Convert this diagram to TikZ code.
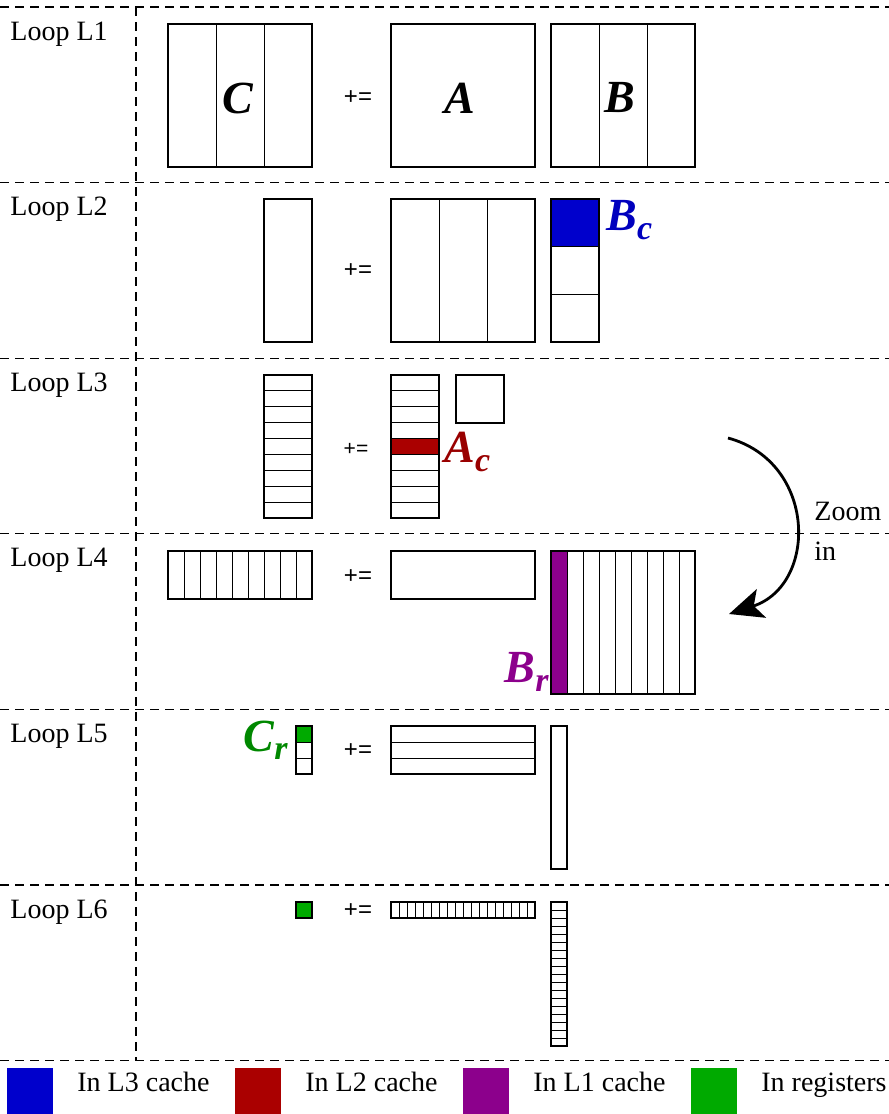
\documentclass[tikz,border=0pt]{standalone}
\usepackage{fontspec}
\setmainfont{Liberation Serif}
\newfontfamily\opfont{Liberation Sans}
\usetikzlibrary{arrows.meta}
\definecolor{inlthree}{RGB}{0,0,204}
\definecolor{inltwo}{RGB}{170,0,0}
\definecolor{inlone}{RGB}{140,0,140}
\definecolor{inreg}{RGB}{0,170,0}
\definecolor{lblthree}{RGB}{0,0,190}
\definecolor{lbltwo}{RGB}{153,0,0}
\definecolor{lblone}{RGB}{140,0,140}
\definecolor{lblreg}{RGB}{0,136,0}
\tikzset{
  % Matrix blocks
  matbox/.style={draw, line width=0.75pt},
  cellline/.style={draw, line width=0.5pt},
  % Loop separators
  loopsep/.style={line width=0.6pt, dash pattern=on 4.5pt off 3pt},
  looplabel/.style={anchor=base west, inner sep=0pt, font=\fontsize{14}{16}\selectfont},
  % Operator and block names
  opsym/.style={inner sep=0pt, font=\opfont\fontsize{12}{14}\selectfont},
  opsmall/.style={inner sep=0pt, font=\opfont\fontsize{10.5}{12}\selectfont},
  matname/.style={inner sep=0pt, font=\bfseries\itshape\fontsize{23}{25}\selectfont},
  % Zoom arrow
  zoomarrow/.style={line width=1.4pt, -{Stealth[length=17pt, width=15pt, inset=4pt]}},
  % Legend
  legtext/.style={anchor=base west, inner sep=0pt, font=\fontsize{14}{16}\selectfont},
}
% subscript of a block name
\newcommand{\blksub}[1]{\raisebox{-0.4ex}{\fontsize{17}{17}\selectfont #1}}
% name, left, top, width, height, columns, rows
\newcommand{\mblock}[7]{%
  \coordinate (#1-nw) at (#2,#3);
  \coordinate (#1-se) at ({#2+#4},{#3+#5});
  \ifnum#6>1 \foreach \k in {2,...,#6}
    \draw[cellline] ({#2+(\k-1)*#4/#6},#3) -- ++(0,#5); \fi
  \ifnum#7>1 \foreach \k in {2,...,#7}
    \draw[cellline] (#2,{#3+(\k-1)*#5/#7}) -- ++(#4,0); \fi
  \draw[matbox] (#1-nw) rectangle (#1-se);
}
\begin{document}
\begin{tikzpicture}[x=0.5pt, y=-0.5pt]
  \useasboundingbox (0,0) rectangle (889,1114);

  %% ── Separators ──
  \foreach \r in {0,...,6}
    \draw[loopsep] (0,{7+175.6*\r}) -- (889,{7+175.6*\r});
  \draw[loopsep] (136,7) -- (136,1060.6);

  %% ── Loop labels ──
  \foreach \r in {1,...,6}
    \node[looplabel] (loop\r) at (10,{40+175.6*(\r-1)}) {Loop L\r};

  %% ── Loop L1 ──
  \mblock{Cone}{168}{24}{144}{143}{3}{1}
  \mblock{Aone}{391}{24}{144}{143}{1}{1}
  \mblock{Bone}{551}{24}{144}{143}{3}{1}
  \node[matname] (nameC) at (238,98) {C};
  \node[opsym]   (eqone) at (358,98) {+=};
  \node[matname] (nameA) at (460,98) {A};
  \node[matname] (nameB) at (620,98) {B};

  %% ── Loop L2 ──
  \fill[inlthree] (551,199) rectangle (599,246.7);
  \mblock{Ctwo}{264}{199}{48}{143}{1}{1}
  \mblock{Atwo}{391}{199}{144}{143}{3}{1}
  \mblock{Btwo}{551}{199}{48}{143}{1}{3}
  \node[opsym] (eqtwo) at (358,271) {+=};
  \node[matname, lblthree, anchor=west] (nameBc) at (606,220) {B\blksub{c}};

  %% ── Loop L3 ──
  \fill[inltwo] (391,438.6) rectangle (439,454.4);
  \mblock{Cthree}{264}{375}{48}{143}{1}{9}
  \mblock{Athree}{391}{375}{48}{143}{1}{9}
  \mblock{Bthree}{456}{375}{48}{48}{1}{1}
  \node[opsmall] (eqthree) at (356,449) {+=};
  \node[matname, lbltwo, anchor=west] (nameAc) at (444,452) {A\blksub{c}};

  %% ── Zoom arrow ──
  \coordinate (zoomfrom) at (728,438);
  \coordinate (zoomto)   at (729,614);
  \draw[zoomarrow] (zoomfrom) .. controls (817,462) and (818,585) .. (zoomto);
  \node[anchor=west, align=left, inner sep=0pt, font=\fontsize{14}{20}\selectfont]
    (zoomtxt) at (814,531) {Zoom\\in};

  %% ── Loop L4 ──
  \fill[inlone] (551,551) rectangle (567,694);
  \mblock{Cfour}{168}{551}{144}{48}{9}{1}
  \mblock{Afour}{391}{551}{144}{48}{1}{1}
  \mblock{Bfour}{551}{551}{144}{143}{9}{1}
  \node[opsym] (eqfour) at (358,577) {+=};
  \node[matname, lblone, anchor=east] (nameBr) at (549,672) {B\blksub{r}};

  %% ── Loop L5 ──
  \fill[inreg] (296,726) rectangle (312,742);
  \mblock{Cfive}{296}{726}{16}{48}{1}{3}
  \mblock{Afive}{391}{726}{144}{48}{1}{3}
  \mblock{Bfive}{551}{726}{16}{143}{1}{1}
  \node[opsym] (eqfive) at (358,751) {+=};
  \node[matname, lblreg, anchor=east] (nameCr) at (288,740) {C\blksub{r}};

  %% ── Loop L6 ──
  \fill[inreg] (296,902) rectangle (312,918);
  \mblock{Csix}{296}{902}{16}{16}{1}{1}
  \mblock{Asix}{391}{902}{144}{16}{18}{1}
  \mblock{Bsix}{551}{902}{16}{144}{1}{18}
  \node[opsym] (eqsix) at (358,911) {+=};

  %% ── Legend ──
  \fill[inlthree] (7,1068) rectangle (53,1114);
  \fill[inltwo]   (235,1068) rectangle (281,1114);
  \fill[inlone]   (463,1068) rectangle (509,1114);
  \fill[inreg]    (691,1068) rectangle (737,1114);
  \node[legtext] (legthree) at (77,1091)  {In L3 cache};
  \node[legtext] (legtwo)   at (305,1091) {In L2 cache};
  \node[legtext] (legone)   at (533,1091) {In L1 cache};
  \node[legtext] (legreg)   at (761,1091) {In registers};

\end{tikzpicture}
\end{document}
